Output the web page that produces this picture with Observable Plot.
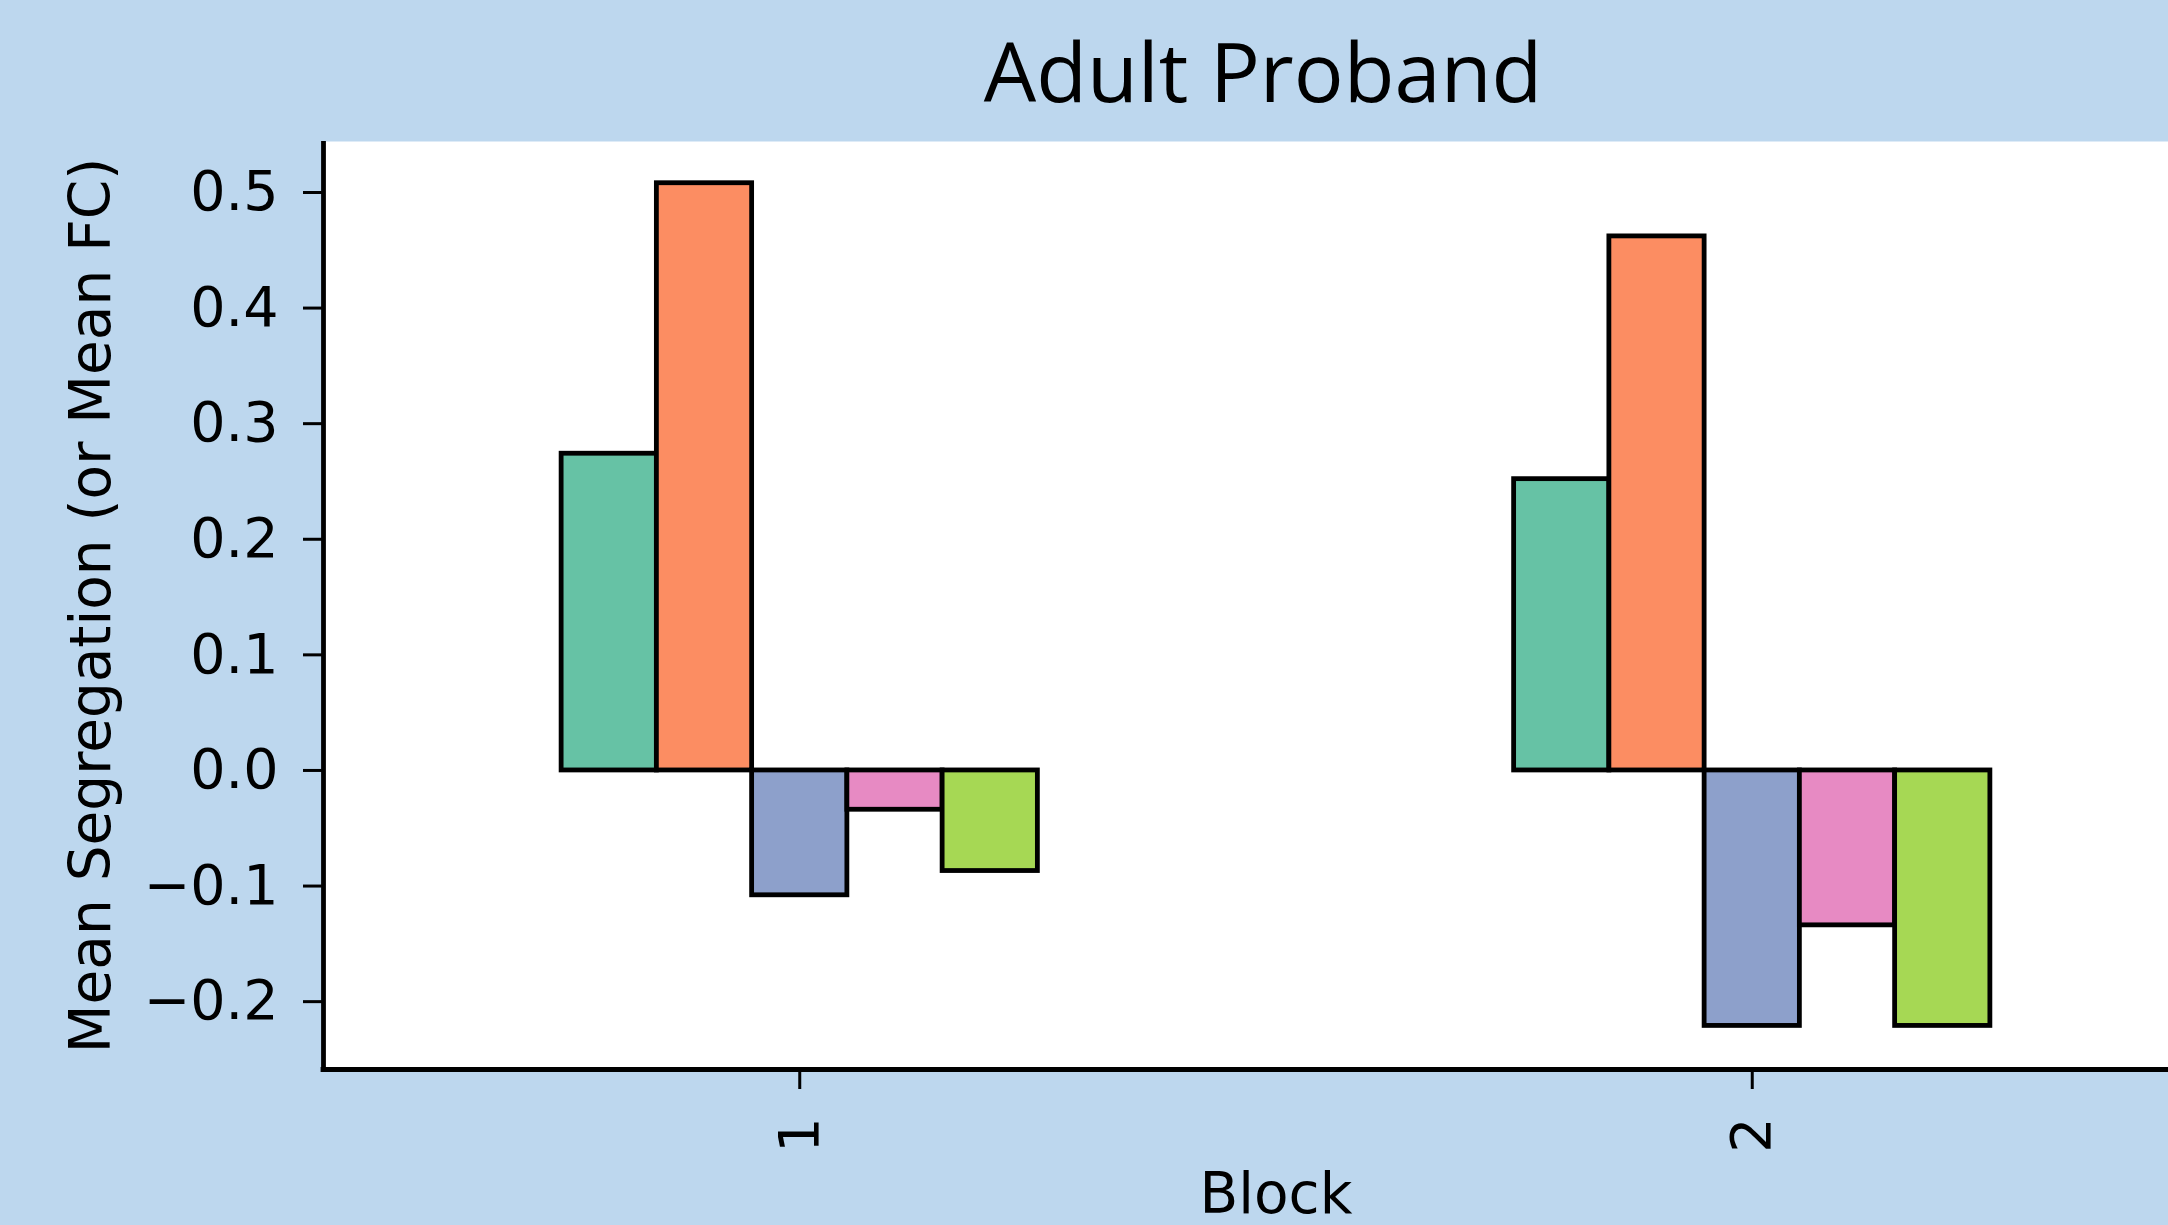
<!DOCTYPE html>
<html>
<head>
<meta charset="utf-8">
<script src="https://cdn.jsdelivr.net/npm/d3@7"></script>
<script src="https://cdn.jsdelivr.net/npm/@observablehq/plot@0.6"></script>
<style>
  html, body { margin: 0; padding: 0; background: #BDD7EE; overflow: hidden; width: 2168px; height: 1225px; }
  #header { position: relative; height: 120px; width: 2168px; }
  #title { position: absolute; left: 1263px; top: 28px; transform: translateX(-50%);
           font-family: "Open Sans", sans-serif; font-size: 83px; line-height: 1; color: #000; white-space: nowrap; }
  #chart svg { display: block; }
</style>
</head>
<body>
<div id="header"><div id="title">Adult Proband</div></div>
<div id="chart"></div>
<script>
// ---- data ----
const blocks = ["1", "2"];
const blockPos = [0, 1];
const series = ["A", "B", "C", "D", "E"];
const seriesA = [0.274, 0.252];
const seriesB = [0.508, 0.462];
const seriesC = [-0.108, -0.221];
const seriesD = [-0.034, -0.134];
const seriesE = [-0.087, -0.221];
const colors = ["#66c2a5", "#fc8d62", "#8da0cb", "#e78ac3", "#a6d854"];
const yTicks = [-0.2, -0.1, 0.0, 0.1, 0.2, 0.3, 0.4, 0.5];
const yLimits = [-0.2587, 0.5441];
const xLimits = [-0.5, 1.5];
const groupWidth = 0.5;

const seriesValues = [seriesA, seriesB, seriesC, seriesD, seriesE];
const table = [];
blocks.forEach((b, i) => {
  series.forEach((s, j) => {
    const w = groupWidth / series.length;
    const x1 = blockPos[i] - groupWidth / 2 + j * w;
    table.push({block: b, series: s, value: seriesValues[j][i], x1, x2: x1 + w});
  });
});

const plot = Plot.plot({
  width: 2168,
  height: 1105,
  marginTop: 21,
  marginBottom: 156,
  marginLeft: 323,
  marginRight: -60,
  style: {background: "transparent", fontFamily: "DejaVu Sans", fontSize: "55.5px", color: "black", overflow: "visible"},
  x: {domain: xLimits},
  y: {domain: yLimits},
  color: {domain: series, range: colors},
  marks: [
    Plot.frame({fill: "white", stroke: "none"}),
    Plot.rect(table, {x1: "x1", x2: "x2", y1: 0, y2: "value", fill: "series", stroke: "black", strokeWidth: 4.8}),
    Plot.axisY({
      ticks: yTicks, tickFormat: d3.format(".1f"), tickSize: 20, tickPadding: 25,
      strokeWidth: 3, fontSize: 55.5, fontFamily: "DejaVu Sans", label: null
    }),
    Plot.axisY({
      ticks: [], fontSize: 56.5, fontFamily: "DejaVu Sans",
      label: "Mean Segregation (or Mean FC)", labelAnchor: "center", labelOffset: 254, labelArrow: "none"
    }),
    Plot.axisX({
      ticks: blockPos, tickFormat: i => blocks[i], tickRotate: -90, tickSize: 20, tickPadding: 28,
      strokeWidth: 3, fontSize: 55.5, fontFamily: "DejaVu Sans", label: null
    }),
    Plot.axisX({
      ticks: [], fontSize: 56.5, fontFamily: "DejaVu Sans",
      label: "Block", labelAnchor: "center", labelOffset: 143, labelArrow: "none"
    }),
    Plot.ruleX([xLimits[0]], {stroke: "black", strokeWidth: 4.8, insetBottom: -2.4}),
    Plot.ruleY([yLimits[0]], {stroke: "black", strokeWidth: 4.8, insetLeft: -2.4})
  ]
});
document.getElementById("chart").appendChild(plot);
</script>
</body>
</html>
